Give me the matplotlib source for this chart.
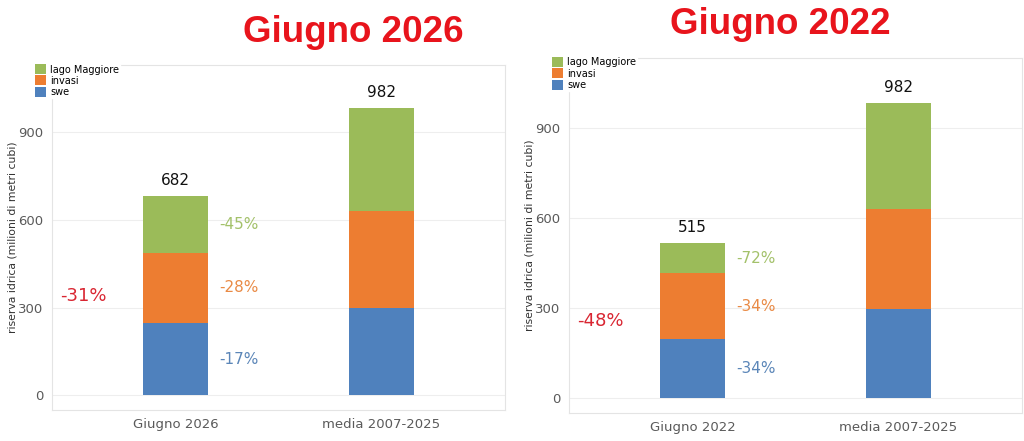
import os
import matplotlib.pyplot as plt
from matplotlib import font_manager as fm

# categorie e valori (milioni di metri cubi)
labels_2026 = ["Giugno 2026", "media 2007-2025"]
labels_2022 = ["Giugno 2022", "media 2007-2025"]

swe_2026 = [247, 298]
invasi_2026 = [240, 332]
lago_2026 = [195, 352]
pct_2026 = ["-17%", "-28%", "-45%"]
tot_pct_2026 = "-31%"

swe_2022 = [197, 298]
invasi_2022 = [219, 332]
lago_2022 = [99, 352]
pct_2022 = ["-34%", "-34%", "-72%"]
tot_pct_2022 = "-48%"

series_names = ["swe", "invasi", "lago Maggiore"]
colors = ["#4f81bd", "#ed7d31", "#9bbb59"]
text_colors = ["#5b86b8", "#e98a45", "#a3c16a"]

# font del titolo: Liberation Sans Bold (metrica Arial), se c'è
title_font = fm.FontProperties(family="DejaVu Sans", weight="bold", size=23)
for f in fm.findSystemFonts():
    if os.path.basename(f) == "LiberationSans-Bold.ttf":
        title_font = fm.FontProperties(fname=f, size=26.5)
        break


def draw_panel(ax, labels, swe, invasi, lago, pct, tot_pct):
    x = list(range(len(labels)))
    w = 0.32
    bottom = [0] * len(x)
    for vals, name, col in zip([swe, invasi, lago], series_names, colors):
        ax.bar(x, vals, w, bottom=bottom, color=col, label=name, zorder=2)
        bottom = [b + v for b, v in zip(bottom, vals)]

    # totali sopra le barre
    for xi, tot in zip(x, bottom):
        ax.annotate(f"{tot}", (xi, tot), xytext=(0, 6), textcoords="offset points",
                    ha="center", va="bottom", fontsize=11, color="#111111")

    # percentuali per componente, accanto alla prima barra
    base = 0
    for vals, p, tc in zip([swe, invasi, lago], pct, text_colors):
        ax.text(x[0] + w / 2 + 0.05, base + vals[0] / 2, p, ha="left", va="center",
                fontsize=11, color=tc)
        base += vals[0]
    ax.text(-0.45, bottom[0] / 2, tot_pct, ha="center", va="center",
            fontsize=13, color="#d92632")

    ax.set_xticks(x)
    ax.set_xticklabels(labels)
    ax.set_yticks([0, 300, 600, 900])
    ax.set_xlim(-0.6, 1.6)
    ax.tick_params(length=0, labelsize=9.5, labelcolor="#5a5a5a", pad=6)
    ax.grid(axis="y", color="#eeeeee", linewidth=0.8, zorder=0)
    ax.set_axisbelow(True)
    for s in ax.spines.values():
        s.set_color("#e4e4e4")
    ax.set_ylabel("riserva idrica (milioni di metri cubi)", fontsize=7.8,
                  color="#333333", labelpad=1)

    h, l = ax.get_legend_handles_labels()
    leg = ax.legend(h[::-1], l[::-1], loc="upper left", bbox_to_anchor=(-0.04, 1.005),
                    fontsize=7, frameon=True, handlelength=1.1, handleheight=1.2,
                    handletextpad=0.5, borderpad=0.1, labelspacing=0.1,
                    borderaxespad=0)
    leg.get_frame().set_facecolor("white")
    leg.get_frame().set_edgecolor("white")
    leg.get_frame().set_alpha(1)
    leg.set_zorder(5)


fig = plt.figure(figsize=(10.24, 4.41), dpi=100)

ax1 = fig.add_axes([52 / 1024, 1 - 410 / 441, 453 / 1024, 345 / 441])
draw_panel(ax1, labels_2026, swe_2026, invasi_2026, lago_2026, pct_2026, tot_pct_2026)
ax1.set_ylim(-51, 1131)

ax2 = fig.add_axes([569 / 1024, 1 - 413 / 441, 453 / 1024, 355 / 441])
draw_panel(ax2, labels_2022, swe_2022, invasi_2022, lago_2022, pct_2022, tot_pct_2022)
ax2.set_ylim(-50, 1133)

fig.text(353 / 1024, 1 - 33 / 441, "Giugno 2026", ha="center", va="center",
         fontproperties=title_font, color="#e8141c")
fig.text(780 / 1024, 1 - 25 / 441, "Giugno 2022", ha="center", va="center",
         fontproperties=title_font, color="#e8141c")

fig.savefig("out.png", dpi=100, facecolor="white")
